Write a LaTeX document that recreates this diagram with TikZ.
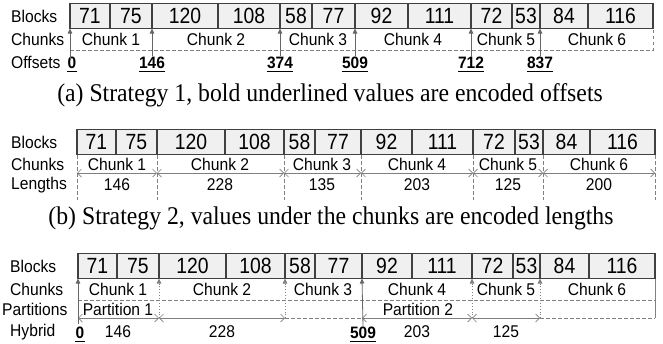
\documentclass[tikz,border=0pt]{standalone}
\usepackage{fontspec}
\setmainfont{Liberation Serif}
\setsansfont{Liberation Sans}
\newfontfamily\labfont{Liberation Sans}[FakeStretch=0.92]
\newfontfamily\offfont{Liberation Sans}[FakeStretch=0.94]
\newfontfamily\numfont{Liberation Sans}[FakeStretch=0.88]
\newfontfamily\capfont{Liberation Serif}[FakeStretch=0.93]
\usetikzlibrary{arrows.meta}
\begin{document}
\begin{tikzpicture}[x=1pt,y=-1pt,
  blk/.style={draw=black!75, line width=1.2pt, fill=black!6, minimum height=25pt, inner sep=0pt, outer sep=0pt, font=\numfont\fontsize{22}{24}\selectfont},
  lab/.style={anchor=west, font=\labfont\fontsize{17}{19}\selectfont, inner sep=0pt},
  txt/.style={font=\labfont\fontsize{17}{19}\selectfont, inner sep=0pt},
  off/.style={font=\offfont\bfseries\fontsize{16.5}{19}\selectfont, inner sep=0pt},
  ulw/.style={line width=1.4pt},
  ptr/.style={draw=black!60, line width=0.8pt, -{Triangle[length=5pt,width=4.5pt]}},
  dptr/.style={draw=black!50, line width=0.8pt, dotted, -{Triangle[length=5pt,width=4.5pt]}},
  dsh/.style={draw=black!50, line width=0.8pt, dash pattern=on 3.5pt off 2.5pt},
  sol/.style={draw=black!50, line width=0.8pt},
  dim/.style={draw=black!50, line width=0.7pt, {Straight Barb[length=4pt,width=8pt]}-{Straight Barb[length=4pt,width=8pt]}},
  captxt/.style={font=\capfont\fontsize{25.5}{28}\selectfont, inner sep=0pt}
]
\useasboundingbox (0,0) rectangle (663,343);

% ================= panel (a) =================
\foreach \l/\r/\v [count=\i] in {70/110/71,110/152/75,152/218/120,218/280/108,280/312/58,312/355/77,355/408/92,408/471/111,471/512/72,512/540/53,540/588/84,588/653/116}{
  \pgfmathsetmacro\w{\r-\l}
  \node[blk, minimum width=\w pt] (a\i) at ({(\l+\r)/2},16) {\v};
}
\node[lab] (alb) at (11,16) {Blocks};
\node[lab] (alc) at (11,39) {Chunks};
\node[lab] (alo) at (11,62) {Offsets};
\foreach \x/\c [count=\i] in {111/1,216/2,318/3,413/4,506/5,597/6}{
  \node[txt] (ac\i) at (\x,39) {Chunk \c};
}
\coordinate (ad0) at (70,50);
\coordinate (ad1) at (653,50);
\draw[dsh] (ad0) -- (ad1) -- (a12.south east);
\node[off] (o0) at (72,62.5) {0};
\foreach \x/\v [count=\i] in {152/146,280/374,355/509,471/712,540/837}{
  \node[off] (o\i) at (\x,62.5) {\v};
}
\foreach \n in {0,...,5}{
  \draw[ulw] ([yshift=-3pt]o\n.south west) -- ([yshift=-3pt]o\n.south east);
}
\coordinate (o0t) at (70,60);
\draw[ptr] (o0t) -- (a1.south west);
\draw[ptr] (o1.north) -- (a3.south west);
\draw[ptr] (o2.north) -- (a5.south west);
\draw[ptr] (o3.north) -- (a7.south west);
\draw[ptr] (o4.north) -- (a9.south west);
\draw[ptr] (o5.north) -- (a11.south west);

\node[captxt] (capa) at (330,95) {(a) Strategy 1, bold underlined values are encoded offsets};

% ================= panel (b) =================
\foreach \l/\r/\v [count=\i] in {77/116/71,116/157/75,157/225/120,225/284/108,284/315/58,315/361/77,361/412/92,412/473/111,473/515/72,515/543/53,543/590/84,590/655/116}{
  \pgfmathsetmacro\w{\r-\l}
  \node[blk, minimum width=\w pt] (b\i) at ({(\l+\r)/2},142) {\v};
}
\node[lab] (blb) at (11,142) {Blocks};
\node[lab] (blc) at (11,164) {Chunks};
\node[lab] (bll) at (11,185) {Lengths};
\foreach \x/\c [count=\i] in {117/1,220/2,322/3,417/4,508/5,599/6}{
  \node[txt] (bc\i) at (\x,164) {Chunk \c};
}
\foreach \x/\v [count=\i] in {117/146,220/228,322/135,417/203,508/125,599/200}{
  \node[txt] (bv\i) at (\x,185) {\v};
}
\foreach \x [count=\i] in {77,157,284,361,473,543,655}{
  \coordinate (bt\i) at (\x,155);
  \coordinate (bb\i) at (\x,200);
  \coordinate (bm\i) at (\x,173);
  \draw[dsh] (bt\i) -- (bb\i);
}
\foreach \i [evaluate=\i as \j using int(\i+1)] in {1,...,6}{
  \draw[dim] (bm\i) -- (bm\j);
}

\node[captxt] (capb) at (331,218) {(b) Strategy 2, values under the chunks are encoded lengths};

% ================= panel (c) =================
\foreach \l/\r/\v [count=\i] in {78/117/71,117/159/75,159/226/120,226/285/108,285/315/58,315/362/77,362/412/92,412/472/111,472/513/72,513/540/53,540/589/84,589/655/116}{
  \pgfmathsetmacro\w{\r-\l}
  \node[blk, minimum width=\w pt] (c\i) at ({(\l+\r)/2},266) {\v};
}
\node[lab] (clb) at (10,266) {Blocks};
\node[lab] (clc) at (10,289) {Chunks};
\node[lab] (clp) at (2,309) {Partitions};
\node[lab] (clh) at (10,332) {Hybrid};
\foreach \x/\c [count=\i] in {118/1,222/2,323/3,417/4,506/5,597/6}{
  \node[txt] (cc\i) at (\x,289) {Chunk \c};
}
\node[txt] (cp1) at (118,309) {Partition 1};
\node[txt] (cp2) at (418,309) {Partition 2};
\coordinate (cd0) at (78,300);
\coordinate (cd1) at (655,300);
\draw[dsh] (cd0) -- (cd1);
\coordinate (ce0) at (655,318);
\draw[sol] (c12.south east) -- (ce0);
% dimension row
\foreach \x [count=\i] in {78,159,285,362,472,540,655}{
  \coordinate (cm\i) at (\x,318);
}
\draw[dim] (cm1) -- (cm2);
\draw[dim] (cm2) -- (cm3);
\draw[dsh] (cm3) -- (cm4);
\draw[dim] (cm4) -- (cm5);
\draw[dim] (cm5) -- (cm6);
\draw[dsh] (cm6) -- (cm7);
% hybrid values
\node[off] (h0) at (80,332.5) {0};
\node[off] (h1) at (363,332.5) {509};
\foreach \n in {0,1}{
  \draw[ulw] ([yshift=-3pt]h\n.south west) -- ([yshift=-3pt]h\n.south east);
}
\node[txt] (hv1) at (118,332) {146};
\node[txt] (hv2) at (222,332) {228};
\node[txt] (hv3) at (417,332) {203};
\node[txt] (hv4) at (506,332) {125};
\coordinate (h0t) at (78,324);
\draw[ptr] (h0t) -- (c1.south west);
\draw[ptr] (h1.north) -- (c7.south west);
\draw[dptr] (cm2) -- (c3.south west);
\draw[dptr] (cm3) -- (c5.south west);
\draw[dptr] (cm5) -- (c9.south west);
\draw[dptr] (cm6) -- (c11.south west);
\end{tikzpicture}
\end{document}
